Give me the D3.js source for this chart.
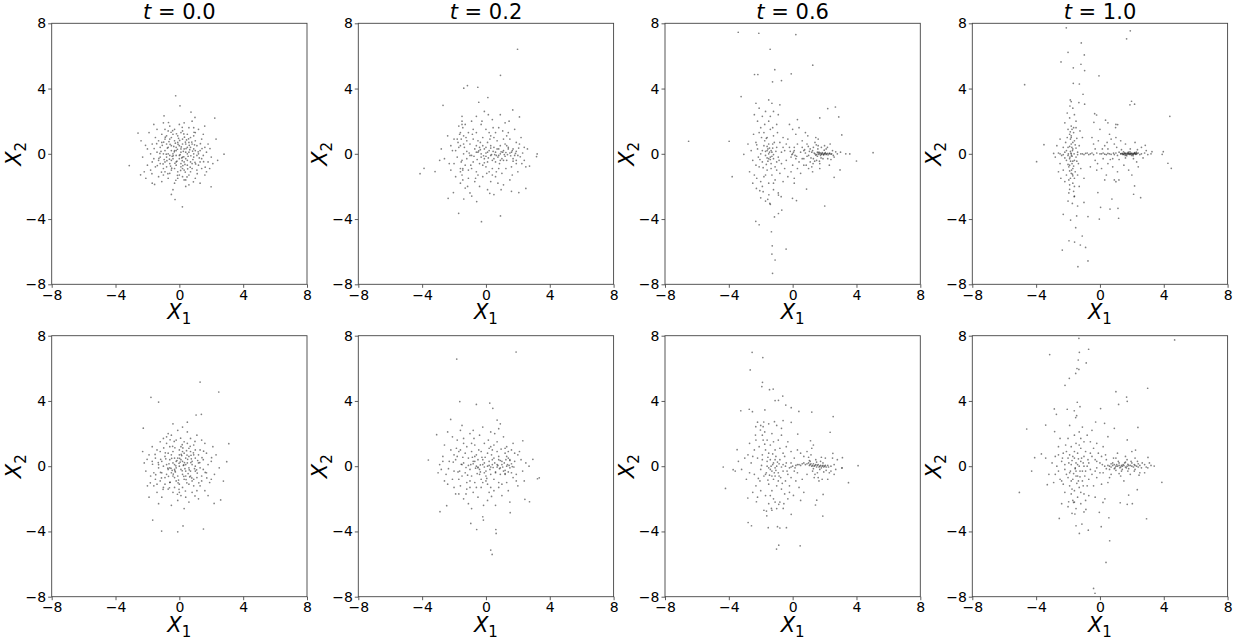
<!DOCTYPE html>
<html><head><meta charset="utf-8">
<script src="https://cdn.jsdelivr.net/npm/d3@7"></script>
<style>body{margin:0;background:#fff}text{font-family:"DejaVu Sans",sans-serif}</style>
</head><body><svg id="c" width="1236" height="641"></svg>
<script>
const titleLabels = ["0.0","0.2","0.6","1.0"];
const tickVals = [-8,-4,0,4,8];

// Row 1, t = 0.0
const top_t00 = [[-0.23,3.56],[0.04,2.94],[0.73,2.56],[2.22,2.19],[-2.59,1.27],[-3.14,-0.72],[2.8,-0.02],[0.19,-3.25],[-0.27,-2.8],[1.99,-2.02],[-0.5,-2.49],[-0.96,2.33],[0.98,2.23],[1.59,1.7],[-2.43,-1.29],[-1.55,-1.88],
[-0.3,0.2],[0.5,-0.4],[-1.1,0.7],[0.9,1.1],[-0.6,-1.2],[1.4,-0.3],[0.2,0.9],[-1.7,-0.5],[0.7,0.4],[-0.2,-0.7],
[1.1,-1.0],[-0.9,1.5],[0.3,-1.6],[-1.3,-1.4],[1.8,0.6],[-0.5,0.5],[0.1,0.1],[-0.8,-0.2],[0.6,1.6],[1.3,0.2],
[-2.0,0.3],[-0.1,-1.1],[0.8,-0.9],[-1.5,1.0],[0.4,0.6],[-0.4,1.2],[1.6,-1.3],[-1.0,-0.9],[0.0,-0.3],[2.1,-0.6],
[-0.7,0.0],[0.5,0.0],[-1.2,0.4],[1.0,0.8],[-0.3,-1.8],[0.2,1.4],[-1.8,-1.0],[1.5,1.2],[-0.6,0.9],[0.9,-0.2],
[-2.3,-0.2],[0.1,-0.6],[-0.9,-0.5],[1.2,-0.7],[-0.2,0.4],[0.6,-1.3],[-1.4,0.1],[0.3,0.3],[-0.5,-0.4],[1.7,0.1],
[-1.0,1.9],[0.0,1.8],[0.8,2.0],[-0.4,-2.2],[1.3,-1.8],[-1.9,1.3],[2.3,0.9],[-2.2,-1.1],[0.4,-2.0],[-0.1,0.7],
[0.7,-0.5],[-0.8,0.6],[1.1,0.5],[-1.6,-0.3],[0.2,-0.2],[-0.3,-0.9],[0.5,1.2],[-1.1,-1.7],[1.9,-0.9],[-0.6,1.7],
[0.9,0.0],[-0.2,-0.1],[0.3,-1.0],[-1.3,0.8],[1.4,0.9],[-0.7,-1.5],[0.0,0.5],[-0.5,0.2],[0.6,0.7],[-0.9,0.2],
[1.0,-1.5],[-1.7,0.6],[0.2,-1.4],[-0.1,1.1],[1.6,0.4],[-2.4,0.8],[0.8,-0.6],[-0.4,0.0],[0.1,-0.8],[-1.2,-0.6],
[1.2,1.5],[-0.8,1.1],[0.4,0.1],[-0.3,1.5],[2.0,-0.2],[-1.5,-0.8],[0.7,1.0],[-0.6,-0.6],[0.0,-1.3],[1.3,-0.5],
[-1.0,0.0],[0.5,-0.7],[-0.2,-0.5],[0.9,0.3],[-1.4,1.5],[0.3,1.9],[-2.0,-0.7],[1.5,-0.1],[-0.7,0.4],[0.1,0.3],
[0.6,-1.9],[-1.1,1.2],[1.8,-0.5],[-0.5,-1.0],[0.2,0.6],[-0.9,-1.1],[1.0,1.3],[-1.8,0.0],[0.4,-0.3],[-0.1,-1.5],
[1.1,-0.1],[-0.3,0.8],[0.8,0.6],[-1.6,1.8],[0.0,-0.1],[-0.6,-0.1],[1.4,-0.9],[-1.2,-0.2],[0.5,0.4],[-0.4,-0.3],
[2.4,-0.4],[-2.1,-1.5],[0.7,-1.1],[-0.8,-0.8],[1.2,0.0],[-0.2,0.2],[0.3,-0.5],[-1.0,-1.3],[0.9,1.6],[-0.5,1.0],
[-1.7,-1.8],[1.7,-1.1],[0.1,1.3],[-0.9,0.9],[0.6,0.1],[-1.3,-0.4],[0.2,-0.9],[1.0,0.2],[-0.7,1.4],[0.4,-1.6],
[0.15,-0.25],[-0.35,0.45],[0.45,0.85],[-0.15,-0.45],[0.25,0.15],[-0.55,-0.75],[0.85,-0.35],[-0.25,0.65],[0.05,-0.05],[-0.45,-0.15],
[0.65,0.25],[-0.75,0.35],[0.35,-0.65],[-0.05,0.95],[1.25,-0.25],[-1.15,0.15],[0.55,-0.15],[-0.65,0.75],[0.95,0.55],[-0.95,-0.35],
[0.12,0.42],[-0.62,-0.33],[0.83,0.17],[-0.18,1.23],[0.37,-1.12],[-1.07,0.52],[1.02,-0.62],[-0.48,-0.88],[0.58,0.92],[-0.88,1.02],
[0.28,-0.18],[-0.32,0.12],[1.32,0.62],[-1.38,-0.72],[0.68,-0.82],[-0.12,-1.32],[0.92,1.32],[-1.22,0.02],[0.18,1.62],[-0.72,-1.22],
[1.52,-0.48],[-1.58,0.32],[0.48,-1.42],[-0.42,1.42],[1.12,-1.22],[-1.12,-1.12],[0.02,0.82],[0.72,-0.12],[-0.82,-0.02],[0.22,-0.72],
[-0.28,-0.58],[0.42,0.32],[-0.58,0.58],[1.18,0.12],[-1.28,-0.28],[0.08,-1.02],[-0.08,0.58],[0.78,0.72],[-0.98,0.72],[0.52,-0.92],
[1.42,0.32],[-1.42,0.62],[0.32,1.02],[-0.22,-1.62],[1.62,-0.82],[-1.72,-1.22],[0.88,-1.72],[-0.68,1.92],[1.92,0.32],[-2.12,0.52],
[0.62,0.52],[-0.38,-0.12],[0.18,-0.42],[-0.12,0.28],[0.38,0.72],[-0.78,-0.42],[0.98,-0.52],[-0.52,1.32],[0.28,1.22],[-1.02,-0.62]];

// Row 1, t = 0.2
const top_t02 = [[1.98,6.41],[0.91,4.81],[-1.39,4.02],[-1.16,4.18],[-0.51,4.08],[-2.69,2.97],[0.12,3.45],[-0.45,3.16],[-4.13,-1.22],[-3.88,-0.89],[-3.19,-1.09],[3.21,-0.01],[3.17,-0.17],[2.73,-0.75],[-1.71,-3.65],[-0.28,-4.16],[0.91,-3.81],[2.06,-2.38],[2.5,-2.12],[1.68,2.69],[2.1,2.26],[-2.37,-2.73],[-2.04,-2.38],[-1.39,-2.77],[-0.89,-2.59],[-0.58,-2.93],[0.24,-2.42],
[0.0,0.05],[0.3,-0.1],[0.6,0.1],[0.9,0.0],[1.2,-0.15],[1.5,0.05],[1.8,-0.1],[-0.3,0.0],[-0.6,0.1],[0.45,0.15],
[0.75,-0.2],[1.05,0.1],[1.35,-0.05],[1.65,0.2],[2.0,-0.1],[2.3,0.05],[-0.9,-0.1],[-1.2,0.15],[0.15,-0.25],[1.9,0.15],
[-0.5,0.8],[0.4,-0.9],[-1.3,-0.7],[1.1,0.9],[-0.8,1.5],[0.2,1.3],[-1.6,0.5],[1.6,-0.8],[-0.2,-1.4],[0.8,1.6],
[-1.1,-1.5],[1.3,0.5],[-0.4,-0.6],[0.6,-0.5],[-1.8,-0.2],[2.1,0.6],[-0.7,0.3],[0.1,0.7],[-1.4,1.1],[1.0,-1.2],
[-0.1,-0.3],[0.5,0.4],[-1.0,0.6],[1.4,1.3],[-2.0,0.9],[0.3,-1.7],[-0.6,-1.1],[0.9,-0.4],[-1.5,-1.3],[1.7,0.3],
[-0.3,1.8],[0.7,0.8],[-1.2,-0.3],[0.0,-0.8],[2.4,-0.4],[-2.3,-0.6],[0.4,2.1],[-0.9,2.0],[1.2,1.9],[-1.7,1.7],
[0.6,-1.4],[-0.4,-2.0],[1.5,-1.6],[-1.3,-2.1],[0.1,-2.2],[-2.1,0.2],[1.9,-0.6],[-0.8,-0.5],[0.3,0.5],[-0.2,1.0],
[1.1,0.2],[-1.6,-0.9],[0.8,-0.9],[-0.5,0.1],[1.3,-0.4],[-1.1,1.3],[0.0,1.5],[-0.7,-1.7],[2.2,1.0],[-2.4,1.1],
[0.5,-2.5],[-1.0,-2.4],[1.6,-2.3],[-1.5,2.3],[0.9,2.4],[-0.1,2.6],[1.8,1.5],[-1.9,-1.4],[2.6,0.3],[-2.6,-0.3],
[0.2,0.2],[-0.3,-0.2],[0.7,0.3],[1.0,-0.3],[-0.6,0.5],[0.4,-0.4],[1.4,0.4],[-1.0,-0.1],[0.1,-0.5],[-0.4,0.4],
[1.2,0.6],[-1.4,0.0],[0.8,-0.1],[1.7,-0.3],[-0.8,0.9],[0.5,1.0],[-1.2,0.8],[0.2,-1.1],[1.5,0.9],[-0.1,0.3],
[-1.7,0.4],[2.0,-1.1],[-0.5,-1.3],[0.6,1.3],[-2.2,-1.0],[1.1,-1.9],[-0.9,-0.9],[0.3,1.1],[-1.8,0.9],[1.9,0.7],
[-0.2,-0.7],[0.9,0.5],[-1.1,-1.0],[0.0,0.4],[2.5,-0.8],[-1.6,-1.8],[0.4,-1.3],[1.3,1.1],[-0.6,1.3],[-1.3,1.8],
[-1.5,2.0],[-1.45,1.6],[-1.6,1.3],[-1.55,0.9],[-1.4,0.6],[-1.5,-0.4],[-1.45,-0.9],[-1.6,-1.1],[-2.8,0.3],[-2.9,-0.4],
[0.1,0.1],[0.35,-0.05],[0.65,-0.1],[0.95,0.12],[1.25,0.08],[1.55,-0.12],[1.85,0.02],[2.15,-0.18],[-0.15,-0.12],[-0.45,0.18],
[-0.75,-0.15],[-1.05,0.05],[0.5,-0.3],[0.8,0.3],[1.1,-0.4],[1.4,0.3],[1.7,-0.45],[2.05,0.35],[-0.2,0.5],[-0.55,-0.35],
[-1.35,0.4],[-1.55,-0.5],[-1.75,0.7],[-0.95,-0.7],[0.25,0.9],[0.65,-1.1],[1.25,-0.9],[-0.35,0.7],[-1.25,1.0],[-1.45,-1.0],
[-1.65,1.2],[-1.5,1.8],[-1.45,-1.6],[0.45,1.6],[1.05,1.4],[-0.65,-1.5],[0.05,-1.2],[-0.85,1.2],[1.65,-1.3],[2.25,-0.6],
[-2.0,-0.6],[-1.9,0.2],[-2.2,0.5],[0.75,-1.8],[-0.25,2.0],[0.95,-2.2],[-0.6,2.3],[0.15,2.4],[1.45,2.0],[-1.15,-2.0],
[0.55,-0.05],[1.15,-0.05],[1.6,0.1],[0.0,-0.15],[-0.35,0.25],[0.85,-0.6],[1.9,-0.4],[2.4,0.4],[-0.1,-0.55],[0.3,0.35]];

// Row 1, t = 0.6
const top_t06 = [[-3.41,7.45],[-2.12,7.39],[0.2,7.31],[-1.41,6.41],[1.26,5.43],[-2.39,4.86],[-2.18,4.86],[-1.12,5.16],[-0.09,4.9],[-1.26,4.41],[-0.7,4.49],[-3.23,3.51],[-6.52,0.77],[-3.98,0.77],[-3.06,-0.03],[-3.79,-1.4],[5.04,0.07],[4.0,-0.44],[3.58,-0.01],[3.33,0.0],[3.08,1.16],[2.89,2.26],[2.68,2.87],[2.2,2.77],[1.7,2.2],[2.97,-0.99],[2.6,-1.44],[2.01,-3.2],[0.87,-2.16],[-0.01,-2.73],[0.24,-2.87],[-2.31,-4.14],[-2.1,-4.35],[-1.33,-4.78],[-1.28,-5.64],[-1.3,-6.15],[-1.1,-6.51],[-0.41,-5.84],[-1.26,-7.33],[-0.68,-3.45],[-0.89,-3.66],[-1.14,-3.87],[-0.89,-2.53],[-0.72,-2.63],[-2.27,-2.12],[-2.06,-2.26],[-1.85,-2.32],[-1.56,-2.79],[-1.43,-3.04],[-1.49,-2.51],
[0.8,0.05],[1.0,-0.1],[1.2,0.1],[1.4,0.0],[1.5,-0.05],[1.6,0.05],[1.7,0.0],[1.8,-0.02],[1.9,0.03],[2.0,0.0],
[2.1,-0.04],[2.2,0.02],[2.3,0.0],[2.4,-0.02],[1.65,0.1],[1.75,-0.1],[1.85,0.08],[1.55,-0.15],[1.95,-0.06],[2.05,0.07],
[1.3,0.4],[1.1,-0.5],[1.4,0.7],[1.2,-0.8],[1.6,0.5],[1.5,-0.4],[0.9,0.6],[1.0,-0.9],[1.7,-0.6],[1.8,0.4],
[2.1,0.3],[2.2,-0.3],[2.5,0.2],[2.6,-0.2],[0.7,-0.3],[0.6,0.4],[1.3,-0.3],[1.1,0.3],[1.9,-0.3],[2.0,0.5],
[1.45,1.0],[1.25,-1.1],[0.95,1.1],[2.35,0.6],[2.3,-0.7],[1.6,0.9],[1.7,-0.9],[0.85,-0.7],[2.8,0.0],[3.0,0.1],
[0.0,0.0],[0.1,0.2],[-0.1,-0.2],[0.2,-0.3],[-0.2,0.4],[0.3,0.6],[0.0,-0.7],[0.4,-0.5],[-0.3,0.9],[0.2,1.2],
[-0.1,-1.1],[0.5,0.1],[0.3,-0.9],[0.0,1.5],[-0.4,-0.4],[0.1,-1.5],[0.6,0.8],[0.5,-1.2],[-0.5,0.2],[0.4,1.6],
[0.05,0.1],[-0.05,-0.05],[0.15,-0.1],[0.6,-0.3],[0.7,0.2],[-0.2,1.8],[0.3,2.1],[0.1,-1.8],[-0.3,-1.4],[0.8,1.3],
[-1.5,0.0],[-1.4,-0.2],[-1.6,0.2],[-1.3,0.1],[-1.7,-0.1],[-1.2,-0.3],[-1.45,0.35],[-1.55,-0.45],[-1.35,-0.6],[-1.8,0.5],
[-2.0,0.0],[-2.2,0.3],[-1.9,-0.5],[-2.1,-0.8],[-2.3,0.7],[-1.0,0.4],[-0.9,-0.2],[-1.1,-0.8],[-0.8,0.7],[-0.7,-0.6],
[-1.6,1.0],[-1.8,1.3],[-2.0,1.6],[-1.4,1.5],[-1.2,1.1],[-2.2,2.0],[-1.9,2.3],[-1.5,2.0],[-1.0,1.8],[-2.1,2.8],
[-1.7,2.6],[-1.3,3.1],[-2.3,3.1],[-0.9,2.4],[-1.6,-1.0],[-1.8,-1.4],[-1.3,-1.3],[-2.0,-1.7],[-1.5,-1.8],[-1.1,-1.6],
[-2.4,-1.3],[-1.9,-2.0],[-1.2,-2.2],[-0.8,-1.2],[-0.6,-1.7],[-2.5,-0.4],[-2.6,0.2],[-0.7,0.1],[-0.6,1.0],[-1.0,-0.5],
[-1.25,0.6],[-1.75,0.8],[-2.15,-0.2],[-1.05,0.15],[-1.65,-0.65],[-0.95,1.3],[-2.45,1.2],[-2.7,-1.1],[-2.4,2.4],[-1.2,2.6],
[-0.8,3.0],[-1.5,3.3],[-2.0,-2.7],[-0.9,-2.4],[-1.7,-2.9],[-1.4,-3.1],[-0.5,-0.9],[-0.4,0.6],[-2.8,0.6],[-2.5,-1.8],
[-1.35,0.2],[-1.5,-0.3],[-1.6,0.45],[-1.2,-0.05],
[1.35,0.05],[1.45,-0.08],[1.55,0.1],[1.62,-0.03],[1.72,0.06],[1.82,0.0],[1.92,-0.05],[2.02,0.03],[2.12,0.0],[2.22,-0.06],
[2.32,0.04],[2.45,0.0],[1.25,0.2],[1.15,-0.25],[1.05,0.15],[0.9,-0.15],[0.75,0.25],[2.55,-0.1],[2.7,0.12],[1.38,-0.45],
[1.58,0.3],[1.78,-0.25],[1.98,0.22],[1.48,0.55],[1.28,-0.6],[1.68,-0.45],[0.98,0.45],[2.18,0.4],[2.4,-0.35],[0.7,-0.7],
[-1.45,0.1],[-1.4,-0.35],[-1.55,0.3],[-1.3,-0.15],[-1.6,-0.25],[-1.25,0.35],[-1.7,0.15],[-1.5,0.6],[-1.35,-0.9],[-1.65,0.95],
[-1.9,0.2],[-2.05,-0.35],[-2.25,0.55],[-1.15,0.7],[-1.0,-1.0],[-1.85,-0.85],[-2.3,-0.7],[-1.95,1.0],[-1.25,1.6],[-1.75,1.8],
[-2.1,1.3],[-1.4,2.3],[-2.25,-1.5],[-1.7,-1.3],[-1.2,-1.8],[-0.85,-0.4],[-0.6,0.4],[0.1,0.4],[-0.15,0.15],[0.25,-0.15]];

// Row 1, t = 1.0
const top_t10 = [[-2.11,7.72],[1.9,7.54],[1.67,7.05],[-1.17,6.8],[-0.98,6.06],[-2.0,6.22],[-2.44,5.63],[-1.19,5.49],[-1.67,5.27],[-0.96,5.1],[-0.06,4.78],[-4.72,4.24],[-1.67,4.32],[-1.29,4.28],[-1.06,3.65],[-1.32,3.14],[-1.86,3.3],[-1.88,2.93],[-0.96,3.04],[1.98,3.22],[2.17,3.04],[1.88,3.0],[4.38,2.3],[-0.33,2.46],[-0.21,2.38],[0.35,2.06],[-0.38,1.93],[1.11,1.79],[0.98,1.61],[-3.51,0.56],[-3.97,-0.48],[3.97,0.13],[3.9,-0.03],[4.26,-0.58],[4.47,-0.89],[3.26,0.13],[2.84,0.52],[2.11,-2.48],[2.17,-1.97],[2.55,-2.69],[1.13,-3.34],[1.17,-3.95],[0.63,-3.39],[0.04,-3.28],[0.75,-2.77],[1.0,-1.71],[1.19,-1.6],[-0.13,-2.38],[-0.04,-4.0],[-1.0,-2.98],[-0.75,-3.85],[-2.3,-3.71],[-2.36,-5.9],[-1.94,-5.33],[-1.59,-5.41],[-1.23,-5.59],[-1.11,-5.04],[-0.9,-5.74],[-0.75,-6.57],[-1.38,-6.92],[-1.84,-4.06],[-1.52,-4.53],[-1.46,-3.81],[-1.73,-3.04],[-1.61,-2.63],[-1.9,-2.18],
[1.3,0.0],[1.4,0.02],[1.5,-0.02],[1.6,0.0],[1.7,0.03],[1.8,-0.01],[1.9,0.01],[2.0,0.0],[2.1,-0.02],[2.2,0.02],
[2.3,0.0],[1.45,-0.05],[1.55,0.06],[1.65,-0.06],[1.75,0.05],[1.85,-0.04],[1.95,0.05],[2.05,-0.05],[2.15,0.04],[2.25,-0.03],
[1.2,0.1],[1.1,-0.1],[1.0,0.05],[0.9,-0.05],[2.4,0.05],[2.5,-0.05],[2.6,0.0],[2.8,0.05],[3.0,-0.05],[3.2,0.0],
[1.35,0.25],[1.6,-0.25],[1.9,0.3],[2.1,-0.3],[1.2,-0.35],[2.35,0.25],[1.05,0.4],[0.8,-0.3],[2.7,-0.25],[2.9,0.2],
[0.0,0.0],[0.2,0.05],[0.4,-0.05],[0.6,0.0],[-0.2,0.05],[-0.4,-0.05],[-0.6,0.0],[-0.8,0.05],[-1.0,-0.05],[-1.2,0.0],
[0.3,0.5],[0.5,-0.6],[-0.1,0.8],[0.7,0.9],[0.1,-0.9],[-0.3,-0.4],[0.6,1.2],[0.4,-1.3],[-0.5,1.0],[0.9,0.6],
[-0.3,0.3],[0.2,-0.3],[0.8,-0.8],[-0.6,-0.8],[1.0,1.0],[0.5,0.3],[-0.2,-1.0],[0.0,1.5],[1.1,-1.1],[0.3,-1.6],
[-1.8,0.0],[-1.7,0.3],[-1.9,-0.3],[-1.8,0.6],[-1.75,-0.6],[-1.85,0.9],[-1.7,-0.9],[-1.9,1.2],[-1.8,-1.2],[-1.75,1.5],
[-1.85,-1.5],[-1.8,1.1],[-1.7,-1.8],[-1.6,0.8],[-2.0,0.4],[-1.65,1.3],[-1.95,-0.8],[-1.55,-1.1],[-2.05,1.0],[-1.6,-0.4],
[-2.2,0.1],[-2.4,-0.1],[-2.6,0.05],[-2.8,-0.2],[-1.4,0.1],[-1.5,-0.2],[-2.1,-0.4],[-2.3,0.4],[-1.3,0.5],[-1.35,-0.6],
[-1.5,1.6],[-2.0,1.5],[-1.6,-1.5],[-2.1,-1.3],[-2.3,-1.0],[-1.4,-1.3],[-1.9,-1.9],[-1.6,-2.0],[-2.2,-1.7],[-1.5,2.0],
[-1.9,2.2],[-2.05,2.5],[-1.7,2.8],[-1.8,3.2],[-1.65,-2.3],[-1.95,-2.4],[-2.5,-0.6],[-2.7,0.5],[-2.6,-1.1],[-2.5,0.9],
[-1.2,-0.9],[-1.1,1.0],[-1.25,1.4],[-1.0,-1.5],[-2.45,-1.5],[-1.85,0.15],[-1.75,-0.15],[-1.9,0.45],[-1.7,-0.45],[-2.0,-0.1],
[-1.55,0.55],[-1.65,-0.75],[-2.15,0.7],[-1.45,0.95],[-2.0,-0.65],[-1.8,1.7],[-1.7,-1.35],[-1.9,-1.05],[-1.3,-2.0],[-2.2,1.9],
[-1.6,-2.6],[-1.4,-3.2],
[0.5,1.9],[1.0,1.8],[1.3,0.8],[1.6,0.6],[2.2,0.7],[2.4,-0.8],[1.8,-1.0],[1.5,-0.7],[2.0,-1.3],[0.9,-1.6],[2.6,0.4],[2.3,-0.5],
[1.32,0.01],[1.42,-0.01],[1.52,0.01],[1.62,0.02],[1.72,-0.02],[1.82,0.02],[1.92,-0.02],[2.02,0.02],[2.12,0.01],[2.22,-0.01],
[2.32,0.02],[1.48,0.12],[1.68,-0.12],[1.88,0.12],[2.08,-0.12],[2.28,0.1],[1.58,-0.1],[1.78,0.1],[1.98,-0.1],[2.18,0.08],
[-1.82,0.05],[-1.78,-0.1],[-1.72,0.2],[-1.88,-0.2],[-1.76,0.4],[-1.84,-0.45],[-1.7,0.7],[-1.9,-0.7],[-1.8,1.0],[-1.78,-1.0],
[-1.86,1.35],[-1.72,-1.25],[-1.65,1.6],[-1.95,-1.6],[-1.62,0.0],[-1.98,0.0],[-2.1,0.2],[-1.5,0.35],[-2.2,-0.25],[-1.45,-0.45],
[-0.5,0.05],[-0.7,-0.05],[-0.9,0.03],[-1.1,0.0],[-1.4,-0.05],[-2.5,0.0],[-2.9,0.02],[-2.3,-0.05],[0.1,0.0],[0.3,-0.02],
[0.5,0.02],[0.7,-0.03],[0.85,0.04],[0.15,0.3],[0.45,0.7],[-0.4,0.6],[0.65,-0.35],[-0.15,-0.6],[-1.6,2.4],[-2.0,-2.9]];

// Row 2, t = 0.0
const bottom_t00 = [[1.3,5.16],[2.47,4.55],[-1.78,4.22],[-1.3,3.93],[-2.26,2.33],[3.1,1.38],[2.97,0.28],[2.76,-0.91],[2.59,-2.07],[1.51,-3.85],[-1.11,-3.98],[-0.1,-4.02],[-1.67,-3.3],[0.23,-3.66],[1.05,3.14],[1.38,3.18],[2.18,-2.28],
[0.2,0.3],[-0.4,-0.6],[1.0,0.5],[-1.2,0.9],[0.6,-1.1],[-0.8,1.4],[1.5,-0.2],[-1.6,-0.4],[0.1,1.2],[0.9,-0.8],
[-0.3,0.1],[0.4,-0.3],[-1.0,-1.3],[1.3,1.0],[-0.6,0.4],[0.0,-1.6],[2.0,0.3],[-1.9,0.7],[0.7,1.7],[-0.2,-0.9],
[1.1,-1.5],[-1.4,-1.6],[0.3,0.8],[-0.7,-0.2],[1.7,0.8],[-2.1,-0.3],[0.5,2.1],[-0.5,1.9],[0.8,0.1],[-1.1,0.3],
[1.4,-0.6],[-0.1,0.5],[0.2,-0.5],[-0.9,-0.7],[2.2,-0.5],[-1.7,1.2],[0.6,0.6],[-0.3,-1.3],[1.2,0.2],[-0.4,0.9],
[0.0,0.0],[0.9,1.3],[-1.3,-0.1],[0.4,-1.9],[-0.6,-1.0],[1.6,1.4],[-2.0,-1.2],[0.1,-0.2],[-0.8,0.1],[1.0,-0.3],
[0.3,1.5],[-1.5,0.5],[0.7,-0.6],[-0.2,0.3],[1.9,-1.0],[-1.0,1.7],[0.5,0.2],[-0.5,-0.4],[1.3,-1.2],[-1.2,-0.9],
[0.2,2.4],[-0.7,2.0],[1.1,1.9],[-1.8,-0.6],[0.8,-1.6],[-0.1,-2.1],[2.3,0.7],[-2.2,0.2],[0.6,-0.1],[-0.3,-0.2],
[1.5,0.4],[-0.9,0.6],[0.0,1.0],[0.4,0.5],[-1.1,-1.9],[1.8,-1.8],[-0.6,1.2],[0.9,-1.2],[-1.4,1.0],[0.2,-1.3],
[1.2,0.7],[-0.4,-1.6],[0.7,0.9],[-1.6,-1.2],[2.5,-0.1],[-0.2,1.6],[0.1,0.4],[-0.8,-0.5],[1.4,-0.9],[-1.3,0.1],
[0.3,-0.8],[-0.5,0.7],[1.0,1.0],[-0.1,-0.6],[0.6,-2.2],[-1.9,-1.9],[1.7,-0.4],[-0.7,-1.4],[0.5,1.4],[-1.0,0.0],
[0.8,0.3],[-0.3,0.5],[1.3,-0.1],[-1.2,1.5],[0.0,-1.1],[2.1,1.2],[-2.3,0.9],[0.4,-0.6],[-0.6,-0.1],[1.1,-0.7],
[-0.9,-1.1],[0.2,0.9],[-0.2,-0.1],[1.6,-1.5],[-1.5,-0.8],[0.7,-0.3],[-0.4,0.2],[0.9,0.7],[-1.7,0.3],[0.1,-1.8],
[1.2,-2.0],[-0.5,-2.4],[0.3,-2.6],[-1.3,-2.3],[0.6,1.1],[-0.8,1.8],[1.4,1.6],[-0.1,2.2],[0.5,2.7],[-0.4,2.6],
[1.8,0.1],[-1.1,-0.4],[0.0,0.7],[0.8,-0.9],[-0.7,0.8],[1.0,0.0],[-0.3,-0.7],[0.4,0.1],[-1.4,-1.1],[2.0,-0.8],
[0.25,0.05],[-0.15,0.35],[0.55,-0.45],[-0.45,-0.25],[0.15,0.65],[0.75,0.45],[-0.65,0.15],[0.35,-0.15],[-0.25,-0.35],[0.05,0.25],
[0.95,-0.15],[-0.85,0.45],[0.45,0.95],[-0.05,-0.85],[1.15,0.35],[0.65,-0.65],
[0.32,0.22],[-0.52,-0.13],[0.73,0.67],[-0.28,1.13],[0.47,-1.02],[-1.17,0.42],[1.12,-0.42],[-0.58,-0.98],[0.68,1.22],[-0.98,1.12],
[0.18,-0.28],[-0.22,0.02],[1.42,0.52],[-1.48,-0.52],[0.78,-0.72],[-0.02,-1.42],[0.98,1.52],[-1.32,0.22],[0.08,1.72],[-0.62,-1.32],
[1.62,-0.38],[-1.68,0.12],[0.38,-1.52],[-0.32,1.52],[1.22,-1.02],[-1.02,-1.42],[0.12,0.72],[0.62,-0.22],[-0.72,-0.12],[0.28,-0.62],
[-0.38,-0.48],[0.52,0.42],[-0.48,0.48],[1.28,0.22],[-1.18,-0.38],[-0.08,-1.02],[0.02,0.48],[0.88,0.82],[-0.88,0.82],[0.42,-0.82],
[1.52,0.92],[-1.52,0.72],[0.22,1.12],[-0.12,-1.72],[1.72,-0.72],[-1.82,-1.02],[0.98,-1.82],[-0.58,1.62],[2.02,0.52],[-2.02,0.42],
[0.72,0.22],[-0.28,-0.28],[0.28,0.08],[-0.02,0.18],[0.48,0.68],[-0.68,-0.62],[1.08,-0.22],[-0.42,1.22],[0.18,1.32],[-1.12,-0.72]];

// Row 2, t = 0.2
const bottom_t02 = [[1.89,7.0],[-1.83,6.57],[-1.64,3.96],[-0.6,3.79],[0.24,3.87],[0.43,3.55],[0.7,2.83],[-2.21,2.87],[-3.09,1.93],[-3.61,0.38],[3.23,-0.77],[3.34,-0.71],[2.94,0.42],[-2.88,-2.79],[-2.46,-2.42],[-0.95,-3.51],[-0.58,-3.88],[-0.2,-3.1],[-0.16,-3.3],[0.62,-3.88],[0.64,-4.12],[0.3,-5.14],[0.39,-5.41],[1.52,-2.85],[2.44,-2.03],[2.73,-2.18],[2.31,1.56],
[0.1,0.0],[0.4,0.1],[0.7,-0.05],[1.0,0.1],[1.3,0.0],[1.6,0.15],[1.5,-0.1],[0.25,-0.2],[0.55,0.2],[0.85,-0.15],
[1.15,0.2],[1.45,0.05],[1.75,-0.05],[-0.2,0.1],[-0.5,-0.05],[-0.8,0.15],[-1.1,0.05],[-1.4,0.2],[0.0,-0.3],[1.2,-0.25],
[-0.6,0.7],[0.5,-0.8],[-1.5,-0.6],[1.2,0.8],[-0.9,1.4],[0.3,1.2],[-1.8,0.6],[1.7,-0.7],[-0.3,-1.3],[0.7,1.5],
[-1.2,-1.4],[1.4,0.5],[-0.4,-0.5],[0.6,-0.4],[-2.0,-0.3],[2.0,0.7],[-0.8,0.3],[0.1,0.8],[-1.6,1.0],[1.0,-1.1],
[-0.1,-0.4],[0.5,0.5],[-1.1,0.5],[1.3,1.2],[-2.2,1.0],[0.2,-1.6],[-0.7,-1.0],[0.9,-0.5],[-1.6,-1.2],[1.8,0.3],
[-0.4,1.9],[0.7,0.9],[-1.3,-0.4],[0.0,-0.9],[2.3,-0.3],[-2.5,-0.5],[0.3,2.1],[-1.0,2.0],[1.1,1.8],[-1.8,1.6],
[0.5,-1.5],[-0.5,-1.9],[1.4,-1.5],[-1.4,-2.0],[0.1,-2.1],[-2.3,0.3],[1.9,-0.5],[-0.9,-0.6],[0.4,0.4],[-0.3,0.9],
[1.0,0.3],[-1.7,-0.8],[0.8,-1.0],[-0.6,0.0],[1.2,-0.5],[-1.2,1.2],[-0.1,1.4],[-0.8,-1.6],[2.1,0.9],[-2.6,1.3],
[0.6,-2.4],[-1.1,-2.3],[1.5,-2.2],[-1.6,2.2],[0.8,2.3],[-0.2,2.4],[1.7,1.4],[-2.0,-1.3],[2.5,0.2],[-2.8,-0.2],
[0.2,0.3],[-0.4,-0.2],[0.8,0.4],[1.1,-0.3],[-0.7,0.6],[0.3,-0.5],[1.5,0.4],[-1.0,-0.2],[0.0,-0.6],[-0.5,0.4],
[1.3,0.6],[-1.5,0.1],[0.9,-0.1],[1.6,-0.4],[-0.9,0.9],[0.4,1.0],[-1.3,0.8],[0.1,-1.1],[1.4,0.9],[-0.2,0.4],
[-1.9,0.4],[2.0,-1.2],[-0.6,-1.3],[0.5,1.3],[-2.4,-1.1],[1.0,-1.8],[-1.0,-0.9],[0.2,1.1],[-1.7,0.9],[1.8,0.8],
[-0.3,-0.8],[0.8,0.6],[-1.2,-1.0],[-0.1,0.2],[2.4,-0.9],[-1.7,-1.7],[0.3,-1.3],[1.2,1.1],[-0.7,1.3],[-1.4,1.7],
[-2.9,0.1],[-2.7,0.6],[-3.0,-0.4],[-2.6,-0.9],[2.7,0.0],[-2.1,1.8],[-2.4,2.1],
[0.2,0.05],[0.45,-0.08],[0.75,0.05],[1.05,-0.05],[1.35,0.1],[1.65,-0.02],[-0.1,-0.05],[-0.35,0.08],[-0.65,-0.12],[-0.95,0.1],
[-1.25,-0.08],[-1.55,0.12],[0.6,-0.35],[0.9,0.35],[1.2,-0.45],[1.5,0.35],[-0.25,0.55],[-0.55,-0.45],[-0.85,0.55],[-1.15,-0.55],
[-1.45,0.55],[-1.75,-0.35],[-2.05,0.25],[-2.35,-0.15],[0.35,0.7],[0.05,-0.75],[-0.45,1.0],[-1.0,-1.3],[-1.4,1.4],[-1.85,1.1],
[-2.1,-0.8],[0.8,-1.3],[1.3,-1.0],[1.6,1.0],[0.15,1.6],[-0.75,1.7],[-1.25,-1.7],[0.35,-1.85],[-0.2,-1.0],[-0.5,-0.1],
[0.95,1.05],[-0.05,0.55],[-1.65,-0.3],[-2.0,0.7],[-2.7,0.3],[-1.9,-1.7],[-0.8,2.2],[0.55,2.0],[1.9,-0.9],[2.2,0.4],
[-0.15,-2.4],[-1.5,2.5],[-0.9,-2.6],[0.9,2.6],[1.25,0.4],[0.7,0.1],[0.3,-0.05],[-0.7,0.3],[1.4,-0.35],[-0.35,-0.35]];

// Row 2, t = 0.6
const bottom_t06 = [[-2.54,6.98],[-1.87,6.66],[-2.66,5.9],[-1.89,5.14],[-1.93,4.88],[-1.45,4.69],[-1.22,4.73],[-0.62,4.3],[-1.1,4.02],[-0.89,4.04],[-0.43,3.75],[-0.09,3.59],[0.39,3.36],[1.2,3.32],[2.54,3.04],[-3.25,3.4],[-2.72,3.49],[-2.52,3.34],[-1.74,3.45],[-2.31,2.42],[-1.81,2.71],[-1.14,2.73],[-1.85,2.42],[-2.02,2.22],[-2.33,1.91],[-0.7,2.32],[-0.09,2.69],[0.32,1.97],[2.35,2.08],[1.12,1.56],[-4.35,-0.05],[-4.21,-1.36],[-3.48,1.01],[-3.73,-0.21],[4.1,0.03],[3.5,-1.01],[3.12,0.52],[3.08,-0.11],[2.52,0.79],[1.89,-3.06],[1.91,-1.73],[1.43,-2.38],[1.51,-2.08],[0.47,-4.88],[-1.01,-5.08],[-0.87,-4.84],[-1.53,-3.77],[-0.95,-3.71],[-0.8,-3.79],[-0.39,-3.77],[-2.79,-3.45],[-2.58,-3.65],[-2.81,-1.95],[-2.27,-2.18],[-1.64,-2.75],[-1.62,-3.04],[-1.33,-2.59],[-0.87,-2.34],[-0.59,-2.59],[-0.09,-2.95],[0.05,-1.79],
[0.0,0.0],[0.2,0.05],[0.4,0.1],[0.6,0.15],[0.8,0.1],[1.0,0.2],[1.1,0.1],[1.2,0.0],[1.3,0.15],[1.4,0.05],
[1.5,-0.05],[1.6,0.1],[1.7,0.0],[1.8,-0.1],[1.9,0.05],[2.0,0.0],[2.1,-0.05],[2.2,0.05],[2.4,0.0],[2.6,0.1],
[1.05,0.35],[1.25,-0.3],[1.45,0.4],[1.55,-0.4],[1.75,0.3],[1.95,-0.35],[1.15,0.7],[1.35,-0.7],[2.05,0.5],[2.3,-0.4],
[0.9,-0.5],[0.7,0.6],[2.7,-0.2],[2.8,0.4],[2.5,0.5],[1.65,-0.9],[1.85,-0.8],[1.2,1.1],[1.3,1.3],[0.5,0.8],
[0.3,-0.4],[0.6,-0.8],[0.9,0.9],[2.2,-0.8],[3.1,-0.1],
[-0.2,-0.1],[-0.4,0.2],[-0.3,-0.5],[0.1,0.5],[-0.1,0.9],[0.2,-0.9],[-0.5,0.6],[-0.6,-0.3],[0.3,1.0],[-0.2,-1.2],
[-1.0,0.0],[-1.2,0.2],[-1.3,-0.3],[-1.1,-0.6],[-1.4,0.4],[-0.9,-0.9],[-1.5,-0.1],[-1.6,0.3],[-0.8,0.4],[-1.2,-0.8],
[-1.0,-1.2],[-1.3,-1.5],[-1.5,-1.1],[-0.7,-1.4],[-1.8,-0.6],[-2.0,-0.2],[-1.9,0.7],[-2.1,1.2],[-1.7,1.0],[-1.4,1.3],
[-1.1,1.0],[-0.9,1.6],[-1.6,1.6],[-2.2,0.5],[-2.4,-0.5],[-2.6,0.2],[-2.8,0.7],[-3.0,0.5],[-3.2,-0.2],[-2.9,-0.8],
[-2.3,-1.2],[-2.0,-1.5],[-1.7,-1.8],[-1.2,-2.0],[-0.8,-2.2],[-0.5,-1.7],[-0.3,-2.0],[-1.5,-2.3],[-2.2,-1.9],[-1.0,-2.6],
[-0.4,1.2],[-0.7,1.9],[-1.3,2.0],[-1.9,1.9],[-2.4,1.0],[-2.7,1.4],[-1.0,2.5],[-1.5,2.6],[-0.6,2.8],[-2.2,2.7],
[-0.1,0.2],[0.1,-0.3],[-0.6,0.1],[-0.9,-0.4],[-1.1,0.4],[-1.35,0.0],[-0.75,-0.7],[-1.65,-0.4],[-1.25,0.75],[-0.45,-0.9],
[-3.4,0.3],[-3.6,-0.3],[-2.5,-1.6],[-1.8,-2.7],[-1.3,-2.7],[-0.2,-1.6],[0.4,-1.3],[0.7,-1.6],[0.5,-2.1],[-0.3,1.5],
[-1.45,-0.55],[-1.05,-0.25],[-1.55,0.55],[-0.85,0.15],[-1.95,0.05],[-2.15,-0.75],[-0.65,-1.05],[-1.75,1.35],
[1.05,0.05],[1.15,0.15],[1.25,0.05],[1.35,0.0],[1.45,0.1],[1.55,0.05],[1.65,-0.05],[1.75,0.05],[1.85,0.0],[1.95,-0.05],
[2.05,0.05],[2.25,-0.05],[1.1,0.3],[1.3,-0.15],[1.5,0.25],[1.7,-0.2],[1.9,0.2],[2.1,-0.25],[0.3,0.1],[0.5,0.05],
[0.7,0.2],[0.9,0.15],[-0.1,-0.05],[0.15,-0.1],[1.0,0.55],[1.4,-0.5],[1.8,0.55],[2.4,-0.3],[2.6,-0.5],[1.6,-0.7],
[-1.1,-0.1],[-1.25,0.1],[-1.15,-0.4],[-0.95,0.25],[-1.4,-0.2],[-1.05,0.6],[-1.3,-0.6],[-0.85,-0.6],[-1.6,0.0],[-1.5,0.8],
[-1.7,-0.5],[-1.9,0.4],[-2.05,-0.9],[-1.2,1.5],[-0.8,1.1],[-1.4,-1.8],[-0.6,0.8],[-0.35,-0.3],[-2.5,0.6],[-2.7,-0.4],
[-1.85,1.6],[-2.3,1.6],[-1.1,-2.2],[-0.55,-2.3],[-0.1,-0.7],[-1.75,2.1],[-2.0,2.5],[-0.45,0.0],[-0.7,-0.05],[-1.55,-0.85]];

// Row 2, t = 1.0
const bottom_t10 = [[-1.32,7.84],[-0.71,7.17],[4.68,7.74],[-3.15,6.84],[-1.29,6.98],[-1.36,6.51],[-0.86,6.33],[-1.44,5.99],[-1.32,5.93],[-1.52,5.69],[-1.92,5.39],[-2.19,4.96],[2.99,4.78],[1.0,4.57],[1.67,4.24],[1.71,3.98],[1.17,3.79],[-1.42,3.92],[-1.25,3.65],[0.04,3.53],[-2.86,3.51],[-2.05,3.49],[-2.73,3.18],[-1.61,3.4],[-1.46,3.1],[-1.52,2.98],[-3.4,2.52],[-4.59,2.28],[-0.27,2.71],[0.29,2.63],[0.9,2.32],[2.38,2.38],[-2.84,2.12],[0.5,1.81],[1.71,1.61],[2.23,0.99],[3.01,0.54],[-3.67,0.75],[-4.09,0.52],[-4.28,-0.3],[-5.05,-1.61],[-3.3,-1.13],[3.88,-0.99],[3.4,0.01],[2.92,-3.22],[2.34,-1.44],[1.27,-2.24],[1.71,-2.34],[2.03,-2.3],[1.8,-1.77],[0.56,-3.16],[0.61,-4.57],[0.38,-5.9],[-0.4,-7.49],[-0.31,-7.79],[0.08,-3.71],[-0.73,-3.92],[-1.29,-4.12],[-1.13,-3.55],[-1.5,-3.65],[-0.88,-2.65],[-1.75,-2.89],[-1.57,-2.93],[-2.55,-3.2],[-2.0,-2.48],[-1.96,-2.18],[-1.65,-2.22],[-0.04,-2.83],[0.19,-2.22],[0.31,-2.0],
[0.3,0.0],[0.5,0.05],[0.7,-0.05],[0.9,0.1],[1.1,0.0],[1.3,-0.05],[1.5,0.05],[1.7,0.0],[1.9,0.05],[2.1,-0.05],
[2.3,0.0],[2.5,0.05],[0.6,-0.2],[0.8,0.2],[1.0,-0.25],[1.2,0.2],[1.4,-0.2],[1.6,0.25],[1.8,-0.15],[2.0,0.2],
[2.2,-0.2],[2.4,0.15],[2.6,-0.1],[2.8,0.1],[3.0,-0.1],[3.2,0.05],[0.4,0.4],[0.7,-0.5],[1.0,0.5],[1.3,-0.6],
[1.6,0.6],[1.9,-0.5],[2.2,0.5],[2.5,-0.4],[2.8,-0.4],[0.2,-0.4],[1.1,0.8],[1.5,-0.9],[2.0,0.9],[0.5,-1.0],
[1.05,0.1],[1.25,-0.1],[1.45,0.1],[1.65,-0.1],[1.35,0.05],[0.95,-0.1],[1.75,0.12],[2.15,0.1],[0.0,0.2],[-0.2,-0.1],
[-1.3,0.0],[-1.5,-0.3],[-1.2,0.3],[-1.6,0.5],[-1.4,-0.6],[-1.1,-0.9],[-1.7,-0.8],[-1.0,0.6],[-1.8,0.1],[-1.9,-0.4],
[-2.0,0.5],[-2.2,-0.2],[-2.4,0.3],[-2.6,-0.3],[-2.8,0.6],[-2.5,-0.8],[-2.1,0.9],[-1.8,1.2],[-1.5,1.4],[-1.2,1.1],
[-0.9,-0.3],[-0.7,0.2],[-0.5,-0.5],[-0.3,0.4],[-0.6,0.8],[-0.8,-1.2],[-1.3,-1.3],[-1.6,-1.5],[-1.9,-1.2],[-2.3,-1.1],
[-1.0,-1.7],[-1.4,-1.9],[-1.7,-2.1],[-1.2,-2.3],[-0.7,-1.8],[-0.4,-1.2],[-0.2,-0.7],[0.1,-1.1],[-0.1,0.8],[-0.4,1.1],
[-1.0,1.5],[-1.6,1.9],[-2.0,1.7],[-1.3,2.1],[-0.8,1.9],[-0.5,2.2],[-1.9,2.5],[-1.1,2.4],[-2.6,1.2],[-3.0,0.2],
[-3.2,-0.5],[-2.9,-1.0],[-2.7,0.0],[-2.3,0.8],[-1.5,0.2],[-1.1,-0.3],[-0.8,0.0],[-1.35,0.45],[-1.65,-0.45],[-1.25,-0.65],
[-1.75,0.35],[-0.6,-0.2],[-2.0,-0.7],[-0.9,0.9],[-1.45,-1.05],[-2.2,-1.6],[-1.5,-2.6],[-1.0,-2.8],[-2.4,-2.3],[-0.3,-1.9],
[0.0,-0.4],[0.1,0.6],[-0.2,1.4],[0.2,1.2],[-2.2,0.1],[-1.9,0.7],[-1.4,0.8],[-1.05,0.2],[-0.95,-0.6],[-1.55,-0.15],
[-2.5,1.7],[-3.4,0.5],[-1.8,-1.7],[-1.2,1.7],
[0.6,0.0],[0.8,0.05],[1.0,0.0],[1.2,0.05],[1.4,0.0],[1.6,-0.05],[1.8,0.05],[2.0,0.0],[2.2,0.05],[2.4,-0.05],
[0.7,0.15],[0.9,-0.15],[1.15,0.3],[1.35,-0.3],[1.55,0.2],[1.75,-0.3],[1.95,0.3],[2.15,-0.3],[2.35,0.3],[2.65,0.2],
[0.4,-0.15],[0.15,0.1],[1.7,0.4],[1.2,-0.45],[0.85,0.5],[2.45,-0.55],[2.9,-0.05],[3.1,0.2],[0.35,0.7],[0.6,-0.7],
[-1.4,0.1],[-1.55,-0.1],[-1.25,-0.3],[-1.7,0.6],[-1.5,-0.6],[-1.15,0.5],[-1.85,-0.3],[-1.35,-0.9],[-1.6,0.9],[-1.95,0.2],
[-2.1,-0.5],[-2.35,0.5],[-1.05,-1.2],[-1.3,1.3],[-0.7,-0.8],[-0.5,0.6],[-0.3,-0.3],[-2.15,1.3],[-1.75,-1.4],[-1.2,-1.6],
[-0.9,-2.1],[-1.6,-2.2],[-0.6,1.5],[-2.6,0.7],[-2.8,-0.5],[-1.0,0.0],[-0.75,0.4],[-1.8,-0.9],[-2.4,-0.9],[-0.2,0.3]];

const panels = [
  {row:0, col:0, data: top_t00, title: titleLabels[0]},
  {row:0, col:1, data: top_t02, title: titleLabels[1]},
  {row:0, col:2, data: top_t06, title: titleLabels[2]},
  {row:0, col:3, data: top_t10, title: titleLabels[3]},
  {row:1, col:0, data: bottom_t00, title: null},
  {row:1, col:1, data: bottom_t02, title: null},
  {row:1, col:2, data: bottom_t06, title: null},
  {row:1, col:3, data: bottom_t10, title: null}
];

const svg = d3.select("#c");
const colLeft = [51.7, 358.3, 665.0, 972.3];
const rowTop = [23.3, 335.7];
const W = 255.3, H = 261.0;
const fmt = d => (d < 0 ? "\u2212" + Math.abs(d) : String(d));

panels.forEach(p => {
  const x0 = colLeft[p.col], y0 = rowTop[p.row];
  const g = svg.append("g").attr("transform", `translate(${x0},${y0})`);
  const x = d3.scaleLinear().domain([-8, 8]).range([0, W]);
  const y = d3.scaleLinear().domain([-8, 8]).range([H, 0]);

  g.append("g").selectAll("circle").data(p.data).join("circle")
    .attr("cx", d => x(d[0])).attr("cy", d => y(d[1]))
    .attr("r", 0.85).attr("fill", "#1a1a1a").attr("fill-opacity", 0.55);

  const xa = g.append("g").attr("transform", `translate(0,${H})`)
    .call(d3.axisBottom(x).tickValues(tickVals).tickFormat(fmt).tickSize(3.5).tickPadding(2));
  const ya = g.append("g")
    .call(d3.axisLeft(y).tickValues(tickVals).tickFormat(fmt).tickSize(3.5).tickPadding(2));
  [xa, ya].forEach(a => {
    a.select(".domain").remove();
    a.selectAll("line").attr("stroke", "#333").attr("stroke-width", 0.8);
    a.selectAll("text").attr("font-size", 14).attr("fill", "#000").attr("font-family", "DejaVu Sans");
  });

  g.append("rect").attr("x", 0).attr("y", 0).attr("width", W).attr("height", H)
    .attr("fill", "none").attr("stroke", "#444").attr("stroke-width", 0.9);

  // x label
  const xl = g.append("text").attr("x", W / 2).attr("y", H + 35)
    .attr("text-anchor", "middle").attr("font-size", 21);
  xl.append("tspan").attr("font-style", "italic").text("X");
  xl.append("tspan").attr("font-size", 15).attr("dy", 5).text("1");

  // y label
  const yl = g.append("text").attr("transform", `translate(-31,${H / 2}) rotate(-90)`)
    .attr("text-anchor", "middle").attr("font-size", 21);
  yl.append("tspan").attr("font-style", "italic").text("X");
  yl.append("tspan").attr("font-size", 15).attr("dy", 5).text("2");

  if (p.title) {
    const t = g.append("text").attr("x", W / 2).attr("y", -4)
      .attr("text-anchor", "middle").attr("font-size", 21);
    t.append("tspan").attr("font-style", "italic").text("t");
    t.append("tspan").text(" = " + p.title);
  }
});
</script></body></html>
